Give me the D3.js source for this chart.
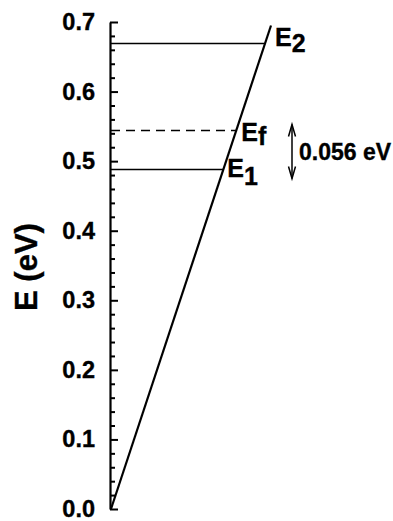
<!DOCTYPE html>
<html>
<head>
<meta charset="utf-8">
<script src="https://cdn.jsdelivr.net/npm/d3@7"></script>
<style>
  html, body { margin: 0; padding: 0; background: #fff; }
  svg { display: block; }
  text { font-family: "Liberation Sans", Arial, sans-serif; font-weight: bold; fill: #000; stroke: #000; stroke-width: 0.35px; }
</style>
</head>
<body>
<svg id="chart" width="393" height="521"></svg>
<script>
// Energy axis
const yDomain = [0, 0.7];
const majorTicks = [0.0, 0.1, 0.2, 0.3, 0.4, 0.5, 0.6, 0.7];
const minorStep = 0.02;

// Linear band: energy rises from 0 at the origin to its top value
const bandK = [0, 1];
const bandE = [0, 0.695];

// Energy levels crossing the band
const levelNames = ["E", "E", "E"];
const levelSubs = ["1", "f", "2"];
const levelValues = [0.488, 0.544, 0.669];
const levelDashed = [false, true, false];

const W = 393, H = 521;
const svg = d3.select("#chart");
svg.append("rect").attr("width", W).attr("height", H).attr("fill", "#fff");

const y = d3.scaleLinear().domain(yDomain).range([509, 22]);
const x = d3.scaleLinear().domain([0, 1]).range([111, 271]);

// k where the band reaches a given energy
const kAt = e => bandK[0] + (bandK[1] - bandK[0]) * (e - bandE[0]) / (bandE[1] - bandE[0]);

// Minor ticks
const minorVals = d3.range(0, 0.7001, minorStep)
  .map(v => +v.toFixed(3))
  .filter(v => !majorTicks.some(m => Math.abs(m - v) < 1e-6));

const minorAxis = d3.axisLeft(y).tickValues(minorVals).tickSize(-5).tickSizeOuter(0).tickFormat("");
const gMinor = svg.append("g").attr("transform", "translate(110,0)").call(minorAxis);
gMinor.select(".domain").remove();
gMinor.selectAll("line").attr("stroke", "#000").attr("stroke-width", 2);

// Major ticks and labels
const majorAxis = d3.axisLeft(y).tickValues(majorTicks).tickSize(-8).tickSizeOuter(0)
  .tickPadding(15).tickFormat(d3.format(".1f"));
const gMajor = svg.append("g").attr("transform", "translate(110,0)").call(majorAxis);
gMajor.select(".domain").attr("stroke", "#000").attr("stroke-width", 2.2);
gMajor.selectAll("line").attr("stroke", "#000").attr("stroke-width", 2);
gMajor.selectAll("text")
  .attr("font-size", 23.5).attr("font-family", "Liberation Sans, Arial, sans-serif")
  .attr("font-weight", "bold").attr("fill", "#000");

// Axis title
svg.append("text")
  .attr("transform", "translate(37,267) rotate(-90)")
  .attr("text-anchor", "middle")
  .attr("font-size", 31)
  .text("E (eV)");

// Band line
const bandPts = bandK.map((k, i) => [x(k), y(bandE[i])]);
svg.append("path")
  .attr("d", d3.line()(bandPts))
  .attr("fill", "none").attr("stroke", "#000").attr("stroke-width", 2.2);

// Level lines from the axis to the band
levelValues.forEach((e, i) => {
  svg.append("line")
    .attr("x1", x(0)).attr("x2", x(kAt(e)))
    .attr("y1", y(e)).attr("y2", y(e))
    .attr("stroke", "#000").attr("stroke-width", 1.6)
    .attr("stroke-dasharray", levelDashed[i] ? "9,6" : null);
});

// Level labels with subscripts
const labelDx = [4, 5, 10];
const labelDy = [8, 10, 2];
const subDy = [8, 4, 6];
levelValues.forEach((e, i) => {
  const t = svg.append("text")
    .attr("x", x(kAt(e)) + labelDx[i])
    .attr("y", y(e) + labelDy[i])
    .attr("font-size", 25);
  t.append("tspan").text(levelNames[i]);
  t.append("tspan").attr("dy", subDy[i]).text(levelSubs[i]);
});

// Gap between E1 and Ef
const eLow = levelValues[0], eHigh = levelValues[1];
const gap = eHigh - eLow;
const ax = 292;
const yTop = y(eHigh) - 6, yBot = y(eLow) + 9;
svg.append("line")
  .attr("x1", ax).attr("x2", ax).attr("y1", yTop).attr("y2", yBot)
  .attr("stroke", "#000").attr("stroke-width", 1.5);
const head = d3.line();
svg.append("path").attr("d", head([[ax - 3.5, yTop + 12], [ax, yTop], [ax + 3.5, yTop + 12]]))
  .attr("fill", "none").attr("stroke", "#000").attr("stroke-width", 1.5);
svg.append("path").attr("d", head([[ax - 3.5, yBot - 12], [ax, yBot], [ax + 3.5, yBot - 12]]))
  .attr("fill", "none").attr("stroke", "#000").attr("stroke-width", 1.5);
svg.append("text")
  .attr("x", 299).attr("y", (yTop + yBot) / 2 + 8)
  .attr("font-size", 23)
  .text(d3.format(".3f")(gap) + " eV");
</script>
</body>
</html>
